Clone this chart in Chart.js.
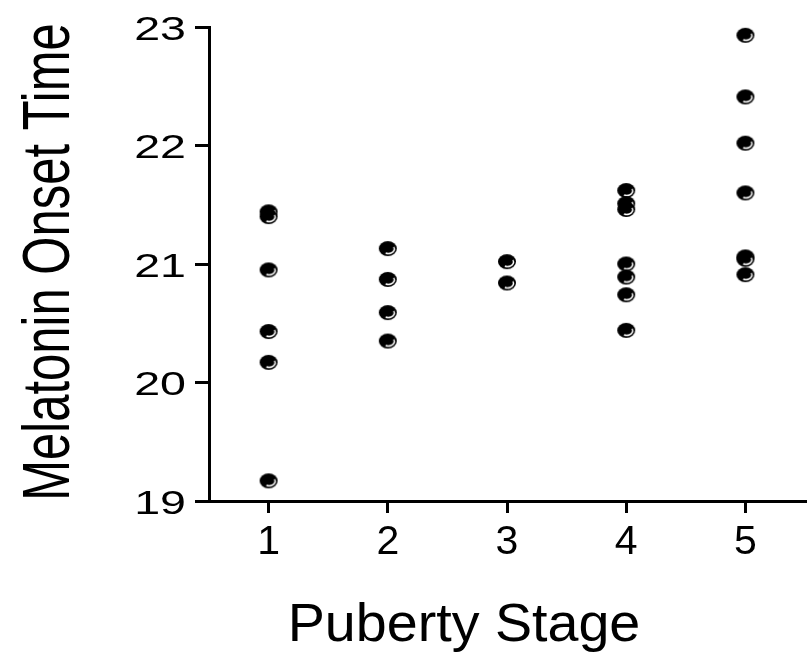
<!DOCTYPE html>
<html>
<head>
<meta charset="utf-8">
<script src="https://cdn.jsdelivr.net/npm/chart.js@4/dist/chart.umd.min.js"></script>
<style>
  html, body { margin: 0; padding: 0; background: #fff; }
  canvas { display: block; }
</style>
</head>
<body>
<canvas id="grafica" width="809" height="657"></canvas>
<script>
// Valores (hora de inicio de melatonina por estadio puberal)
const estadios = [1, 2, 3, 4, 5];
const estadio1 = [21.44, 21.40, 20.95, 20.43, 20.17, 19.17];
const estadio2 = [21.13, 20.87, 20.59, 20.35];
const estadio3 = [21.02, 20.84];
const estadio4 = [21.62, 21.51, 21.46, 21.00, 20.89, 20.74, 20.44];
const estadio5 = [22.93, 22.41, 22.02, 21.60, 21.06, 21.04, 20.91];
const ticksY = [19, 20, 21, 22, 23];

const tituloX = 'Puberty Stage';
const tituloY = 'Melatonin Onset Time';

const fuente = '"Liberation Sans", Arial, sans-serif';

const puntos = [];
[estadio1, estadio2, estadio3, estadio4, estadio5].forEach((valores, i) => {
  valores.forEach(v => puntos.push({ x: estadios[i], y: v }));
});

// Marcador: elipse negra con un brillo blanco abajo a la derecha
function crearMarcador() {
  const c = document.createElement('canvas');
  c.width = 20;
  c.height = 17;
  const g = c.getContext('2d');
  g.fillStyle = '#000';
  g.beginPath();
  g.ellipse(10, 8.5, 9, 7.5, 0, 0, Math.PI * 2);
  g.fill();
  g.strokeStyle = '#fff';
  g.lineWidth = 1.4;
  g.beginPath();
  g.ellipse(10.5, 9, 6, 4.5, 0, -0.15 * Math.PI, 0.65 * Math.PI);
  g.stroke();
  return c;
}

// Textos dibujados a mano (la figura original tiene la tipografia estirada)
const textos = {
  id: 'textos',
  afterDraw(chart) {
    const ctx = chart.ctx;
    const y = chart.scales.y;
    ctx.save();
    ctx.fillStyle = '#000';

    // etiquetas del eje Y
    ctx.font = '34px ' + fuente;
    ctx.textAlign = 'right';
    ctx.textBaseline = 'alphabetic';
    ticksY.forEach(v => {
      const py = y.getPixelForValue(v);
      ctx.save();
      ctx.translate(186, py + 12.5);
      ctx.scale(1.37, 1);
      ctx.fillText(String(v), 0, 0);
      ctx.restore();
    });

    // titulo eje X
    ctx.save();
    ctx.font = '54px ' + fuente;
    ctx.textAlign = 'center';
    ctx.translate(464, 641);
    ctx.scale(1.03, 1);
    ctx.fillText(tituloX, 0, 0);
    ctx.restore();

    // titulo eje Y
    ctx.save();
    ctx.font = '49px ' + fuente;
    ctx.textAlign = 'center';
    ctx.translate(69, 262);
    ctx.rotate(-Math.PI / 2);
    ctx.scale(1, 1.37);
    ctx.fillText(tituloY, 0, 0);
    ctx.restore();

    ctx.restore();
  }
};

new Chart(document.getElementById('grafica'), {
  type: 'scatter',
  data: {
    datasets: [{
      data: puntos,
      pointStyle: crearMarcador(),
      pointRadius: 9,
      pointHoverRadius: 9,
    }],
  },
  options: {
    responsive: false,
    animation: false,
    devicePixelRatio: 1,
    layout: { autoPadding: false, padding: { top: 27, right: 4, left: 0, bottom: 0 } },
    plugins: {
      legend: { display: false },
      tooltip: { enabled: false },
    },
    scales: {
      x: {
        type: 'linear',
        min: 0.5,
        max: 5.5,
        afterBuildTicks: (eje) => { eje.ticks = estadios.map(v => ({ value: v })); },
        afterFit: (eje) => { eje.height = 156; },
        border: { color: '#000', width: 3 },
        grid: { drawOnChartArea: false, color: '#000', tickColor: '#000', tickLength: 12, lineWidth: 3 },
        ticks: { color: '#000', font: { size: 41, family: fuente }, padding: 5 },
      },
      y: {
        min: 19,
        max: 23,
        afterBuildTicks: (eje) => { eje.ticks = ticksY.map(v => ({ value: v })); },
        afterFit: (eje) => { eje.width = 209; },
        border: { color: '#000', width: 3 },
        grid: { drawOnChartArea: false, color: '#000', tickColor: '#000', tickLength: 14, lineWidth: 3 },
        ticks: { color: 'rgba(0,0,0,0)', font: { size: 32, family: fuente } },
      },
    },
  },
  plugins: [textos],
});
</script>
</body>
</html>
